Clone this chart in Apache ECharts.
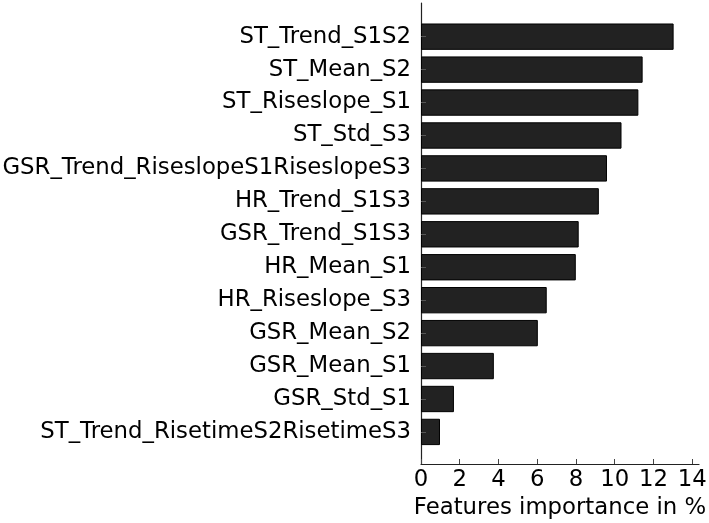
<!DOCTYPE html>
<html>
<head>
<meta charset="utf-8">
<script src="https://cdn.jsdelivr.net/npm/echarts@6/dist/echarts.min.js"></script>
<style>
  html, body { margin: 0; padding: 0; background: #fff; }
  #chart { width: 709px; height: 523px; }
</style>
</head>
<body>
<div id="chart"></div>
<script>
// feature names, top to bottom
const features = [
  'ST_Trend_S1S2',
  'ST_Mean_S2',
  'ST_Riseslope_S1',
  'ST_Std_S3',
  'GSR_Trend_RiseslopeS1RiseslopeS3',
  'HR_Trend_S1S3',
  'GSR_Trend_S1S3',
  'HR_Mean_S1',
  'HR_Riseslope_S3',
  'GSR_Mean_S2',
  'GSR_Mean_S1',
  'GSR_Std_S1',
  'ST_Trend_RisetimeS2RisetimeS3',
];
// importance in %
const importance = [13.04, 11.44, 11.22, 10.35, 9.6, 9.18, 8.14, 7.99, 6.49, 6.03, 3.76, 1.7, 0.98];
const xTicks = [0, 2, 4, 6, 8, 10, 12, 14];

const FONT = 'DejaVu Sans';
const FONT_SIZE = 22.8;
const X_MAX = 14.35;

const chart = echarts.init(document.getElementById('chart'), null, { renderer: 'canvas' });

chart.setOption({
  animation: false,
  backgroundColor: '#fff',
  grid: [
    // frame: axis lines + x ticks
    { left: 421, right: 10, top: 3, bottom: 59, outerBoundsMode: 'none', containLabel: false },
    // bars
    { left: 421, right: 10, top: 20.2, bottom: 74.6, outerBoundsMode: 'none', containLabel: false },
  ],
  xAxis: [
    {
      gridIndex: 0,
      type: 'value',
      min: 0,
      max: X_MAX,
      name: 'Features importance in %',
      nameLocation: 'middle',
      nameGap: 31,
      nameTextStyle: { fontFamily: FONT, fontSize: FONT_SIZE, color: '#000' },
      axisLine: { show: true, onZero: false, lineStyle: { color: '#222', width: 1.2 } },
      axisTick: {
        show: true, inside: true, length: 5,
        customValues: xTicks,
        lineStyle: { color: '#444' },
      },
      axisLabel: {
        customValues: xTicks,
        margin: 5,
        fontFamily: FONT, fontSize: FONT_SIZE, color: '#000',
      },
      splitLine: { show: false },
    },
    {
      gridIndex: 1,
      type: 'value',
      min: 0,
      max: X_MAX,
      show: false,
    },
  ],
  yAxis: [
    {
      gridIndex: 0,
      type: 'value',
      min: 0,
      max: 1,
      axisLine: { show: true, onZero: false, lineStyle: { color: '#222', width: 1.2 } },
      axisTick: { show: false },
      axisLabel: { show: false },
      splitLine: { show: false },
    },
    {
      gridIndex: 1,
      type: 'category',
      inverse: true,
      data: features,
      z: 3,
      axisLine: { show: false },
      axisTick: {
        show: true, inside: true, length: 5, alignWithLabel: true,
        lineStyle: { color: '#555' },
      },
      axisLabel: {
        margin: 10,
        fontFamily: FONT, fontSize: FONT_SIZE, color: '#000',
      },
      splitLine: { show: false },
    },
  ],
  series: [
    {
      type: 'bar',
      xAxisIndex: 1,
      yAxisIndex: 1,
      data: importance,
      barCategoryGap: '20%',
      itemStyle: { color: '#222222', borderColor: '#000', borderWidth: 1 },
    },
  ],
});
</script>
</body>
</html>
